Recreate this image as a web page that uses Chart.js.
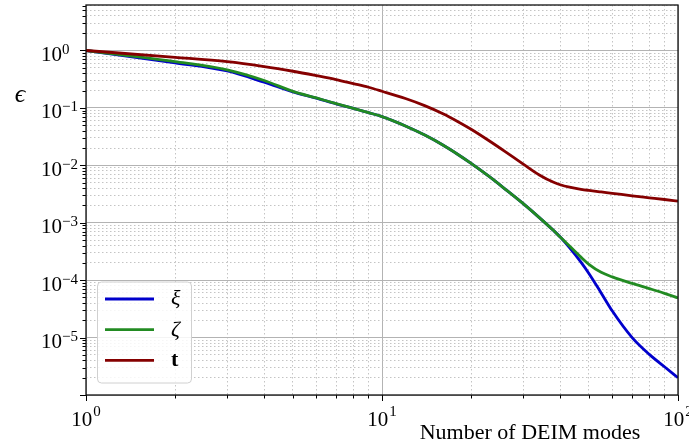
<!DOCTYPE html>
<html>
<head>
<meta charset="utf-8">
<script src="https://cdn.jsdelivr.net/npm/chart.js@4.4.1/dist/chart.umd.min.js"></script>
<style>
  html, body { margin: 0; padding: 0; background: #fff; }
</style>
</head>
<body>
<canvas id="myChart" width="689" height="447"></canvas>
<script>
// number of DEIM modes (x) and the error of each field
var modes = [1, 2, 3, 4, 5, 6, 7, 8, 9, 10, 12, 14, 16, 18, 20, 23, 26, 30, 34, 38, 40, 43, 47, 50, 55, 60, 70, 80, 90, 100];
var xiErr = [1.0, 0.61, 0.44, 0.28, 0.19, 0.148, 0.118, 0.0985, 0.0828, 0.0705, 0.0485, 0.0333, 0.0228, 0.0156, 0.0108, 0.0064, 0.0039, 0.00215, 0.00123, 0.00073, 0.000564, 0.00037, 0.000206, 0.000131, 6.0e-5, 2.9e-5, 1.0e-5, 5.1e-6, 3.1e-6, 2.0e-6];
var zetaErr = [1.0, 0.64, 0.46, 0.30, 0.194, 0.149, 0.119, 0.0985, 0.0828, 0.0705, 0.0485, 0.0333, 0.0228, 0.0156, 0.0108, 0.0064, 0.0039, 0.00215, 0.00123, 0.00073, 0.000564, 0.000393, 0.000252, 0.000189, 0.000137, 0.000114, 8.77e-5, 7.13e-5, 5.9e-5, 4.9e-5];
var tErr = [1.0, 0.762, 0.64, 0.525, 0.435, 0.365, 0.312, 0.265, 0.229, 0.195, 0.1456, 0.1086, 0.080, 0.0582, 0.0425, 0.0268, 0.0175, 0.0105, 0.0068, 0.00506, 0.00459, 0.00417, 0.00383, 0.00366, 0.00344, 0.00326, 0.00294, 0.00272, 0.00254, 0.00238];

// tick labels are 10^e
var xExponents = ['0', '1', '2'];
var yExponents = ['0', '-1', '-2', '-3', '-4', '-5'];

var serif = "'Liberation Serif', 'Times New Roman', 'DejaVu Serif', serif";

function pts(ys) {
  return modes.map(function (m, i) { return {x: m, y: ys[i]}; });
}

// 1..9 x 10^k ticks only (no 1.5 steps)
function decadeTicks(scale) {
  var ticks = [];
  var lo = Math.floor(Math.log10(scale.min)), hi = Math.ceil(Math.log10(scale.max));
  for (var e = lo; e <= hi; e++) {
    for (var s = 1; s < 10; s++) {
      var v = s * Math.pow(10, e);
      if (v >= scale.min * 0.999 && v <= scale.max * 1.001) ticks.push({value: v, major: s === 1});
    }
  }
  scale.ticks = ticks;
}

function gridOpts() {
  return {
    drawTicks: false,
    color: function (c) { return c.tick && c.tick.major ? '#b3b3b3' : '#bdbdbd'; },
    lineWidth: function (c) { return c.tick && c.tick.major ? 1 : 0.9; }
  };
}
function borderOpts() {
  return {
    display: false,
    dash: function (c) { return c.tick && !c.tick.major ? [1.5, 2.5] : []; }
  };
}

var decorations = {
  id: 'decorations',
  afterDraw: function (chart) {
    var ctx = chart.ctx, a = chart.chartArea;
    var xs = chart.scales.x, ys = chart.scales.y;
    ctx.save();

    // tick marks, outward on left and bottom
    ctx.strokeStyle = '#000';
    ctx.lineWidth = 1;
    xs.ticks.forEach(function (t) {
      var px = Math.round(xs.getPixelForValue(t.value)) + 0.5;
      ctx.beginPath();
      ctx.moveTo(px, a.bottom);
      ctx.lineTo(px, a.bottom + (t.major ? 6 : 3.5));
      ctx.stroke();
    });
    ys.ticks.forEach(function (t) {
      var py = Math.round(ys.getPixelForValue(t.value)) + 0.5;
      ctx.beginPath();
      ctx.moveTo(a.left, py);
      ctx.lineTo(a.left - (t.major ? 6 : 3.5), py);
      ctx.stroke();
    });

    // frame
    ctx.lineWidth = 1.3;
    ctx.strokeStyle = '#111';
    ctx.strokeRect(a.left, a.top, a.right - a.left, a.bottom - a.top);

    // tick labels
    ctx.fillStyle = '#000';
    ctx.textBaseline = 'alphabetic';
    var big = '21px ' + serif, small = '15px ' + serif;
    xExponents.forEach(function (e) {
      var px = xs.getPixelForValue(Math.pow(10, +e));
      ctx.font = big;
      var w1 = ctx.measureText('10').width;
      ctx.font = small;
      var w2 = ctx.measureText(e).width;
      var x0 = px - (w1 + w2 + 1) / 2;
      ctx.font = big;
      ctx.textAlign = 'left';
      ctx.fillText('10', x0, a.bottom + 31);
      ctx.font = small;
      ctx.fillText(e, x0 + w1 + 1, a.bottom + 21);
    });
    yExponents.forEach(function (e) {
      var py = ys.getPixelForValue(Math.pow(10, +e));
      ctx.font = big;
      ctx.textAlign = 'right';
      ctx.fillText('10', a.left - 24, py + 10.5);
      ctx.font = small;
      ctx.textAlign = 'left';
      ctx.fillText(e.replace('-', '\u2212'), a.left - 24, py + 3.5);
    });

    // axis titles
    ctx.font = '22px ' + serif;
    ctx.textAlign = 'center';
    ctx.fillText('Number of DEIM modes', a.left + 0.75 * (a.right - a.left), a.bottom + 44);
    ctx.font = 'italic 26px ' + serif;
    ctx.fillText('\u03f5', 20, a.top + 97);

    // legend
    var bx = a.left + 11, bw = 94, bh = 101, by = a.bottom - 12.5 - bh;
    ctx.beginPath();
    ctx.roundRect(bx + 0.5, by + 0.5, bw, bh, 4);
    ctx.fillStyle = 'rgba(255,255,255,0.85)';
    ctx.fill();
    ctx.strokeStyle = '#d0d0d0';
    ctx.lineWidth = 1;
    ctx.stroke();
    chart.data.datasets.forEach(function (ds, i) {
      var ry = by + 17.5 + i * 30.7;
      ctx.strokeStyle = ds.borderColor;
      ctx.lineWidth = ds.borderWidth;
      ctx.beginPath();
      ctx.moveTo(bx + 8, ry);
      ctx.lineTo(bx + 57, ry);
      ctx.stroke();
      ctx.fillStyle = '#000';
      ctx.textAlign = 'left';
      ctx.font = (ds.legendStyle || '') + ' 22px ' + serif;
      ctx.fillText(ds.label, bx + 74, ry + 6);
    });
    ctx.restore();
  }
};

var ctx = document.getElementById('myChart');
var myChart = new Chart(ctx, {
  type: 'line',
  data: {
    datasets: [{
      label: '\u03be',
      legendStyle: 'italic',
      data: pts(xiErr),
      borderColor: '#0000cc',
      borderWidth: 2.8,
      order: 3
    }, {
      label: '\u03b6',
      legendStyle: 'italic',
      data: pts(zetaErr),
      borderColor: '#228b22',
      borderWidth: 2.8,
      order: 2
    }, {
      label: 't',
      legendStyle: 'bold',
      data: pts(tErr),
      borderColor: '#850000',
      borderWidth: 2.8,
      order: 1
    }]
  },
  options: {
    responsive: false,
    animation: false,
    devicePixelRatio: 1,
    elements: {
      point: { radius: 0 },
      line: { cubicInterpolationMode: 'monotone', fill: false }
    },
    layout: {
      padding: { left: 86, right: 11, top: 5, bottom: 52 }
    },
    plugins: {
      legend: { display: false },
      tooltip: { enabled: false }
    },
    scales: {
      x: {
        type: 'logarithmic',
        min: 1,
        max: 100,
        afterBuildTicks: decadeTicks,
        ticks: { display: false },
        grid: gridOpts(),
        border: borderOpts()
      },
      y: {
        type: 'logarithmic',
        min: 1e-6,
        max: 6.2,
        afterBuildTicks: decadeTicks,
        ticks: { display: false },
        grid: gridOpts(),
        border: borderOpts()
      }
    }
  },
  plugins: [decorations]
});
</script>
</body>
</html>
